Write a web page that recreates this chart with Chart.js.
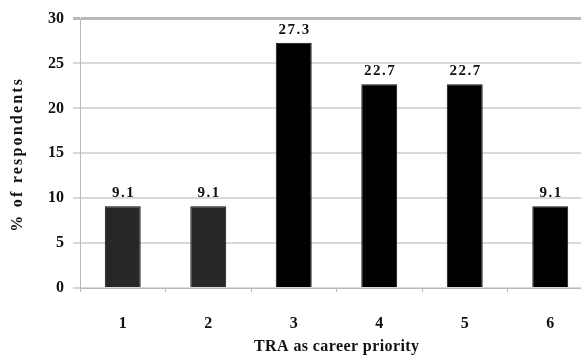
<!DOCTYPE html>
<html>
<head>
<meta charset="utf-8">
<script src="https://cdn.jsdelivr.net/npm/chart.js@4"></script>
<style>
  html, body { margin: 0; padding: 0; background: #fff; overflow: hidden; }
  #wrap { width: 581px; height: 357px; overflow: hidden; position: relative; }
  #box { width: 600px; height: 357px; position: absolute; left: 0; top: 0; }
</style>
</head>
<body>
<div id="wrap"><div id="box"><canvas id="c"></canvas></div></div>
<script>
// Career priority ranking of TRA among respondents
const categories = ['1', '2', '3', '4', '5', '6'];
const percentRespondents = [9.1, 9.1, 27.3, 22.7, 22.7, 9.1];
const yTicks = [0, 5, 10, 15, 20, 25, 30];
const xTitle = 'TRA as career priority';
const yTitle = '% of respondents';

const barColors = ['#272727', '#272727', '#000000', '#000000', '#000000', '#000000'];
const FONT = '"Liberation Serif", "Times New Roman", serif';

// draw text centred on (x, y) with extra letter spacing
function spacedText(ctx, text, x, y, spacing) {
  ctx.letterSpacing = spacing + 'px';
  const w = ctx.measureText(text).width - spacing;
  ctx.textAlign = 'left';
  ctx.fillText(text, x - w / 2, y);
  ctx.letterSpacing = '0px';
}

// value labels above each bar plus the two axis titles
const annotations = {
  id: 'annotations',
  afterDraw(chart) {
    const ctx = chart.ctx;
    const meta = chart.getDatasetMeta(0);
    const area = chart.chartArea;
    ctx.save();
    ctx.fillStyle = '#111';
    ctx.textBaseline = 'middle';

    ctx.font = 'bold 15px ' + FONT;
    meta.data.forEach((bar, i) => {
      spacedText(ctx, percentRespondents[i].toFixed(1), bar.x, bar.y - 13, 1.5);
    });

    ctx.font = 'bold 16px ' + FONT;
    spacedText(ctx, xTitle, (area.left + area.right) / 2, 347, 0.4);

    ctx.save();
    ctx.translate(18, (area.top + area.bottom) / 2 + 2);
    ctx.rotate(-Math.PI / 2);
    spacedText(ctx, yTitle, 0, 0, 2.2);
    ctx.restore();

    ctx.restore();
  }
};

new Chart(document.getElementById('c'), {
  type: 'bar',
  data: {
    labels: categories,
    datasets: [{
      data: percentRespondents,
      backgroundColor: barColors,
      borderColor: '#111',
      borderWidth: 1,
      barPercentage: 0.42,
      categoryPercentage: 1.0
    }]
  },
  options: {
    responsive: true,
    maintainAspectRatio: false,
    animation: false,
    layout: { padding: { top: 16, right: 7, left: 0, bottom: 0 } },
    plugins: { legend: { display: false }, tooltip: { enabled: false } },
    scales: {
      x: {
        grid: {
          drawOnChartArea: false,
          drawTicks: true,
          tickLength: 4,
          color: '#b8b8b8',
          offset: true
        },
        border: { color: '#b8b8b8', width: 1 },
        ticks: {
          color: '#111',
          font: { family: FONT, size: 16, weight: 'bold' },
          padding: 22
        },
        afterFit(scale) { scale.height = 69; }
      },
      y: {
        min: 0,
        max: 30,
        afterBuildTicks(scale) { scale.ticks = yTicks.map(v => ({ value: v })); },
        grid: {
          color: ctx => ctx.tick && ctx.tick.value === 30 ? '#b9b9b9' : '#d9d9d9',
          lineWidth: ctx => ctx.tick && ctx.tick.value === 30 ? 3 : 2,
          tickLength: 7
        },
        border: { color: '#b8b8b8', width: 1 },
        ticks: {
          color: '#111',
          font: { family: FONT, size: 16, weight: 'bold' },
          padding: 9
        },
        afterFit(scale) { scale.width = 80; }
      }
    }
  },
  plugins: [annotations]
});
</script>
</body>
</html>
